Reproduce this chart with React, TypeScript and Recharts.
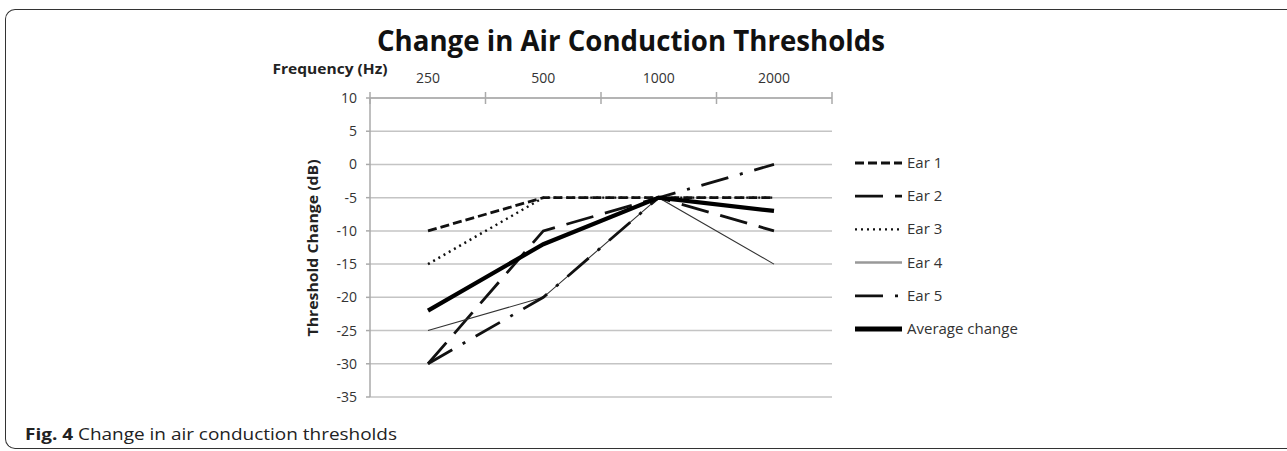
import React from "react";
import { LineChart, Line, XAxis, YAxis, CartesianGrid, ReferenceLine } from "recharts";

const frequencies = ["250", "500", "1000", "2000"];
const ear1 = [-10, -5, -5, -5];
const ear2 = [-30, -10, -5, -10];
const ear3 = [-15, -5, -5, -5];
const ear4 = [-25, -20, -5, -15];
const ear5 = [-30, -20, -5, 0];
const averageChange = [-22, -12, -5, -7];
const yTicks = [10, 5, 0, -5, -10, -15, -20, -25, -30, -35];
const boundaryTicks = [0, 1, 2, 3, 4];

const data = frequencies.map((f, i) => ({
  freq: f,
  ear1: ear1[i],
  ear2: ear2[i],
  ear3: ear3[i],
  ear4: ear4[i],
  ear5: ear5[i],
  avg: averageChange[i],
}));

const seriesStyle = [
  { key: "ear1", name: "Ear 1", color: "#111", width: 2.8, dash: "9 4", legendColor: "#111", legendWidth: 2.8 },
  { key: "ear2", name: "Ear 2", color: "#111", width: 2.8, dash: "28 12", legendColor: "#111", legendWidth: 2.8 },
  { key: "ear3", name: "Ear 3", color: "#111", width: 2.4, dash: "2 4", legendColor: "#111", legendWidth: 2.4 },
  { key: "ear4", name: "Ear 4", color: "#333", width: 1.1, dash: undefined, legendColor: "#999", legendWidth: 2.5 },
  { key: "ear5", name: "Ear 5", color: "#111", width: 2.8, dash: "28 12 3 12", legendColor: "#111", legendWidth: 2.8 },
  { key: "avg", name: "Average change", color: "#000", width: 4.2, dash: undefined, legendColor: "#000", legendWidth: 5 },
];

const font = "'Open Sans', 'DejaVu Sans', sans-serif";
const gridY0 = 163; // legend rows sit on the 0 .. -25 gridlines
const rowGap = 33.2;

// short tick crossing the top axis line at a category boundary
const CrossTick = (props: any) => {
  const { x1, y1, y2 } = props;
  const top = Math.min(y1, y2);
  return <line x1={x1} x2={x1} y1={top - 6} y2={top + 6} stroke="#aaa" strokeWidth={1.5} />;
};

export default function App() {
  return (
    <div style={{ position: "absolute", left: 0, top: 0, width: 1287, height: 451, background: "#fff", overflow: "hidden", fontFamily: font }}>
      <div
        style={{
          position: "absolute",
          left: 5,
          top: 9,
          width: 1290,
          height: 438,
          border: "1.5px solid #333",
          borderRight: "none",
          borderRadius: "10px 0 0 10px",
        }}
      />
      <svg style={{ position: "absolute", left: 0, top: 0 }} width={1287} height={451}>
        <text x={631} y={51} textAnchor="middle" fontFamily={font} fontWeight="bold" fontSize={28} fill="#111" textLength={508} lengthAdjust="spacingAndGlyphs">
          Change in Air Conduction Thresholds
        </text>
        <text x={330} y={74} textAnchor="middle" fontFamily={font} fontWeight="bold" fontSize={14} fill="#222" textLength={115} lengthAdjust="spacingAndGlyphs">
          Frequency (Hz)
        </text>
        <text x={0} y={0} transform="translate(318,248) rotate(-90)" textAnchor="middle" fontFamily={font} fontWeight="bold" fontSize={14} fill="#222" textLength={177} lengthAdjust="spacingAndGlyphs">
          Threshold Change (dB)
        </text>
        {seriesStyle.map((s, i) => (
          <g key={s.key}>
            <line x1={855} x2={902} y1={gridY0 + i * rowGap} y2={gridY0 + i * rowGap} stroke={s.legendColor} strokeWidth={s.legendWidth} strokeDasharray={s.dash} />
            <text x={907} y={gridY0 + 5 + i * rowGap} fontFamily={font} fontSize={15} fill="#333">
              {s.name}
            </text>
          </g>
        ))}
        <text x={25} y={440} fontFamily={font} fontSize={16} fill="#222" textLength={372} lengthAdjust="spacingAndGlyphs">
          <tspan fontWeight="bold">Fig. 4</tspan> Change in air conduction thresholds
        </text>
      </svg>
      <div style={{ position: "absolute", left: 0, top: 0 }}>
        <LineChart width={1287} height={451} data={data} margin={{ top: 78, right: 455, left: 310, bottom: 54 }}>
          <CartesianGrid vertical={false} stroke="#c4c4c4" strokeWidth={1.5} />
          <XAxis
            xAxisId="bounds"
            type="number"
            dataKey={() => 2}
            domain={[0, 4]}
            ticks={boundaryTicks}
            hide
            allowDataOverflow
          />
          <XAxis
            dataKey="freq"
            orientation="top"
            height={20}
            padding={{ left: 58, right: 58 }}
            axisLine={{ stroke: "#aaa", strokeWidth: 1.5 }}
            tickLine={false}
            tickSize={0}
            tickMargin={15}
            tick={{ fill: "#333", fontSize: 14, fontFamily: font }}
            interval={0}
          />
          <YAxis
            type="number"
            domain={[-35, 10]}
            ticks={yTicks}
            width={60}
            interval={0}
            axisLine={{ stroke: "#aaa", strokeWidth: 1.5 }}
            tickLine={{ stroke: "#aaa", strokeWidth: 1.5 }}
            tickSize={4}
            tickMargin={9}
            tick={{ fill: "#333", fontSize: 14, fontFamily: font }}
          />
          {boundaryTicks.map((b) => (
            <ReferenceLine key={b} xAxisId="bounds" x={b} shape={<CrossTick />} />
          ))}
          {seriesStyle.map((s) => (
            <Line
              key={s.key}
              dataKey={s.key}
              name={s.name}
              type="linear"
              stroke={s.color}
              strokeWidth={s.width}
              strokeDasharray={s.dash}
              dot={false}
              activeDot={false}
              isAnimationActive={false}
            />
          ))}
        </LineChart>
      </div>
    </div>
  );
}
